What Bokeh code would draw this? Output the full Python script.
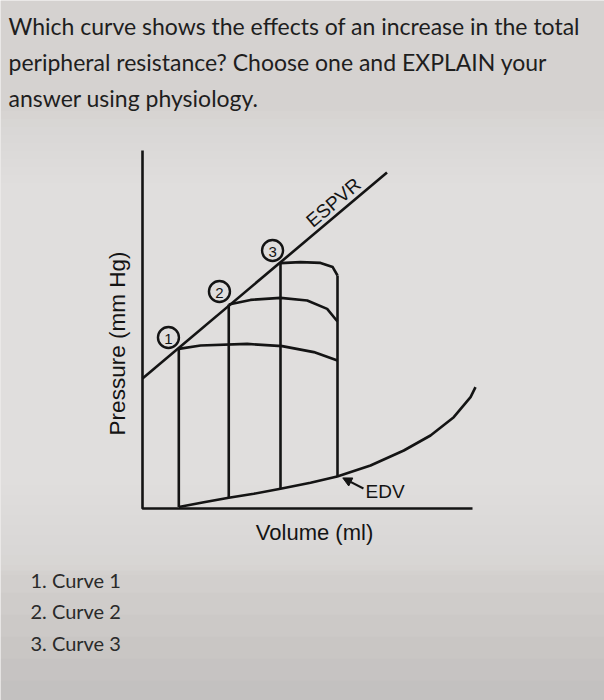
from bokeh.plotting import figure
from bokeh.models import Range1d, Label, Arrow, NormalHead, ColumnDataSource, BoxAnnotation
from bokeh.core.properties import value
from bokeh.embed import file_html
from bokeh.resources import INLINE

# ---------------- data (volume in ml, pressure in mm Hg, arbitrary scale) ----------------
question_lines = [
    "Which curve shows the effects of an increase in the total",
    "peripheral resistance? Choose one and EXPLAIN your",
    "answer using physiology.",
]
choices = ["1. Curve 1", "2. Curve 2", "3. Curve 3"]

axis_v = [0, 0, 220]
axis_p = [179, 0, 0]

espvr_v = [0, 163]
espvr_p = [65, 168]

curve_ids = ["1", "2", "3"]
esv = [24.2, 57.5, 92]        # end-systolic volumes (left verticals)
esp = [80, 102, 123]          # end-systolic pressures
esv_base_p = [0.75, 5.35, 9.85]  # pressure on EDPVR at the ESV
edv = 130
edv_base_p = 16
edv_top_p = 116.5

loop1_v = [24.2, 38.7, 69.8, 93.1, 114.2, 130]
loop1_p = [79.8, 81.5, 82.3, 81.2, 78.2, 74]
loop2_v = [57.5, 72, 92, 109.8, 123.1, 130]
loop2_p = [102, 104.3, 105.3, 104, 99.8, 93.5]
loop3_v = [92, 105.3, 118.7, 126.8, 130]
loop3_p = [122.7, 123.2, 122.8, 120.7, 116.5]

edpvr_v = [24.2, 40.9, 57.5, 74.2, 92, 112, 129.8, 152, 174.2, 192, 207.5, 218.7, 222]
edpvr_p = [0.75, 3.15, 5.35, 7.35, 9.85, 12.85, 16, 21.5, 29, 36.5, 45.65, 55.65, 60.65]

marker_v = [17.3, 51.3, 86.7]
marker_p = [85.5, 108.5, 129]

# ---------------- figure ----------------
W, H = 604, 700
BG = "#d5d2d0"
INK = "#141414"

p = figure(width=W, height=H, output_backend="svg", toolbar_location=None,
           x_range=Range1d(-94.67, 308), y_range=Range1d(-96, 254),
           min_border=0, min_border_left=0, min_border_right=0,
           min_border_top=0, min_border_bottom=0,
           background_fill_color=BG, border_fill_color=BG)
p.axis.visible = False
p.grid.visible = False
p.outline_line_color = None

# soft photo-like lighting: lighter band behind the diagram, darker toward the bottom
for i in range(10):
    p.add_layout(BoxAnnotation(left=0, right=604,
                               top=700 - (110 + 8 * i), bottom=700 - (575 - 10 * i),
                               left_units="screen", right_units="screen",
                               top_units="screen", bottom_units="screen",
                               fill_color="#f6f5f1", fill_alpha=0.07, line_color=None,
                               level="underlay"))
for i in range(6):
    p.add_layout(BoxAnnotation(left=0, right=604, top=700 - (570 + 22 * i), bottom=0,
                               left_units="screen", right_units="screen",
                               top_units="screen", bottom_units="screen",
                               fill_color="#9a9a98", fill_alpha=0.05, line_color=None,
                               level="underlay"))

lw = 2.6
p.line(axis_v, axis_p, line_color=INK, line_width=lw)
p.line(espvr_v, espvr_p, line_color=INK, line_width=lw)
p.line(edpvr_v, edpvr_p, line_color=INK, line_width=lw, line_join="round")
for lv, lp in [(loop1_v, loop1_p), (loop2_v, loop2_p), (loop3_v, loop3_p)]:
    p.line(lv, lp, line_color=INK, line_width=lw, line_join="round")
p.segment(x0=esv, y0=esv_base_p, x1=esv, y1=esp, line_color=INK, line_width=lw)
p.segment(x0=[edv], y0=[edv_base_p], x1=[edv], y1=[edv_top_p], line_color=INK, line_width=lw)

msrc = ColumnDataSource(dict(x=marker_v, y=marker_p, t=curve_ids))
p.scatter("x", "y", source=msrc, size=21, fill_alpha=0, line_color=INK, line_width=2.4)
p.text("x", "y", text="t", source=msrc, text_align="center", text_baseline="middle",
       text_font=value("Liberation Sans"), text_font_size="15px", text_color=INK,
       y_offset=1)

diag_font = "Liberation Sans"
p.add_layout(Label(x=127.3, y=153, text="ESPVR", angle=40.2, angle_units="deg",
                   text_align="center", text_baseline="middle",
                   text_font=diag_font, text_font_size="19px", text_color=INK))
p.add_layout(Label(x=148.7, y=8.5, text="EDV", text_align="left", text_baseline="middle",
                   text_font=diag_font, text_font_size="19px", text_color=INK))
p.add_layout(Arrow(x_start=147.3, y_start=10, x_end=133.5, y_end=15.3,
                   line_color=INK, line_width=2,
                   end=NormalHead(size=9, fill_color=INK, line_color=INK)))
p.add_layout(Label(x=-16.7, y=82.5, text="Pressure (mm Hg)", angle=90, angle_units="deg",
                   text_align="center", text_baseline="middle",
                   text_font=diag_font, text_font_size="22.5px", text_color=INK))
p.add_layout(Label(x=114.7, y=-12, text="Volume (ml)", text_align="center", text_baseline="middle",
                   text_font=diag_font, text_font_size="22px", text_color=INK))

for i, line in enumerate(question_lines):
    p.add_layout(Label(x=8, y=H - (25 + 36 * i), x_units="screen", y_units="screen",
                       text=line, text_align="left", text_baseline="middle",
                       text_font="Lato", text_font_size="23px", text_color="#1e1e1e"))
for i, c in enumerate(choices):
    p.add_layout(Label(x=30, y=H - (579 + 31.5 * i), x_units="screen", y_units="screen",
                       text=c, text_align="left", text_baseline="middle",
                       text_font="Lato", text_font_size="20px", text_color="#2a2a2a"))

open("out.html", "w").write(file_html(p, INLINE))
